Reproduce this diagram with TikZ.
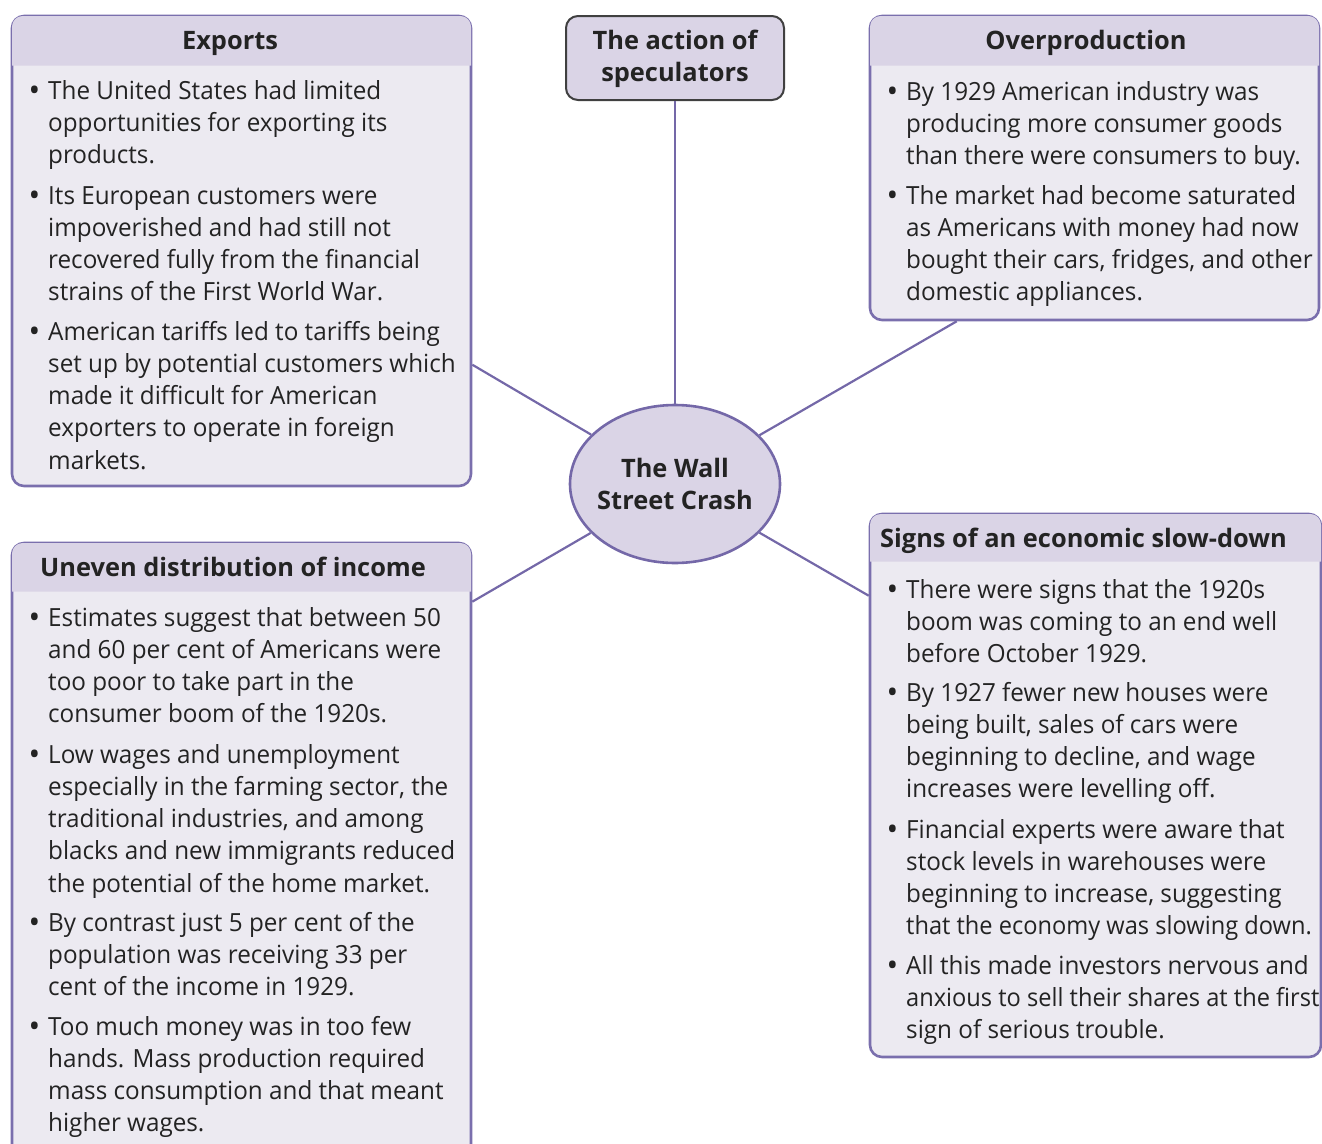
\documentclass[tikz,border=0pt]{standalone}
\usepackage{fontspec}
\setmainfont[FakeStretch=0.97]{Open Sans}
\newfontfamily\hfont[FakeStretch=1.0]{Open Sans}
\newfontfamily\narrowf[FakeStretch=0.945]{Open Sans}
\usetikzlibrary{shapes.geometric,calc}
\definecolor{hdrfill}{RGB}{218,212,230}
\definecolor{bodyfill}{RGB}{236,234,241}
\definecolor{bordc}{RGB}{122,111,173}
\definecolor{linec}{RGB}{116,104,168}
\definecolor{txtc}{RGB}{35,35,35}
\tikzset{
  box/.style={draw=bordc, line width=2.6pt, fill=bodyfill, rounded corners=12pt, inner sep=0pt},
  hdr/.style={fill=hdrfill},
  btxt/.style={anchor=base west, align=left, inner sep=0pt, text=txtc, font=\fontsize{25}{32.3}\selectfont},
  htxt/.style={anchor=base, inner sep=0pt, text=txtc, font=\hfont\fontsize{25.4}{32}\selectfont\bfseries},
  conn/.style={draw=linec, line width=2.2pt},
}
\newcommand{\bl}{\llap{\raisebox{-2.5pt}{\fontsize{32}{32}\selectfont\textbullet}\hspace{8pt}}}
\begin{document}
\begin{tikzpicture}[x=1pt,y=-1pt]
\useasboundingbox (0,0) rectangle (1322,1143);
\clip (0,0) rectangle (1322,1143);
% boxes
\node[box, minimum width=459pt, minimum height=470pt] (exports) at (241.5,251) {};
\node[box, minimum width=449pt, minimum height=304pt] (overp) at (1094.5,168) {};
\node[box, minimum width=451pt, minimum height=543pt] (signs) at (1095.5,785.5) {};
\node[box, minimum width=459pt, minimum height=617pt] (uneven) at (241.5,851.5) {};
% header bands
\fill[hdr] ($(exports.north west)+(1.3,51)$) [rounded corners=10.7pt] -- ($(exports.north west)+(1.3,1.3)$) -- ($(exports.north east)+(-1.3,1.3)$) [sharp corners] -- ($(exports.north east)+(-1.3,51)$) -- cycle;
\fill[hdr] ($(overp.north west)+(1.3,51)$) [rounded corners=10.7pt] -- ($(overp.north west)+(1.3,1.3)$) -- ($(overp.north east)+(-1.3,1.3)$) [sharp corners] -- ($(overp.north east)+(-1.3,51)$) -- cycle;
\fill[hdr] ($(signs.north west)+(1.3,49)$) [rounded corners=10.7pt] -- ($(signs.north west)+(1.3,1.3)$) -- ($(signs.north east)+(-1.3,1.3)$) [sharp corners] -- ($(signs.north east)+(-1.3,49)$) -- cycle;
\fill[hdr] ($(uneven.north west)+(1.3,50)$) [rounded corners=10.7pt] -- ($(uneven.north west)+(1.3,1.3)$) -- ($(uneven.north east)+(-1.3,1.3)$) [sharp corners] -- ($(uneven.north east)+(-1.3,50)$) -- cycle;
% speculators and centre
\node[draw=black!75, line width=2pt, fill=hdrfill, rounded corners=12pt, minimum width=218pt, minimum height=84pt, inner sep=0pt] (spec) at (675,58) {};
\node[ellipse, draw=linec, line width=2.6pt, fill=hdrfill, minimum width=210pt, minimum height=158pt, inner sep=0pt] (crash) at (675,484) {};
% connector anchors on box sides
\coordinate (expC) at ($(exports.north east)+(0,350)$);
\coordinate (ovC) at ($(overp.south west)+(88,0)$);
\coordinate (unC) at ($(uneven.north east)+(0,60)$);
\coordinate (sgC) at ($(signs.north west)+(0,83)$);
\draw[conn] (spec.south) -- (crash.north);
\draw[conn] (expC) -- (crash);
\draw[conn] (ovC) -- (crash);
\draw[conn] (unC) -- (crash);
\draw[conn] (sgC) -- (crash);
% headings
\node[htxt] (hexp) at (230,49) {Exports};
\node[htxt] (hov) at (1086,49) {Overproduction};
\node[htxt, anchor=base west] (hsg) at (880,547) {Signs of an economic slow-down};
\node[htxt, anchor=base west] (hun) at (40,576) {Uneven distribution of income};
\node[htxt, align=center] (hspec) at (675,81) {The action of\\speculators};
\node[htxt, align=center, anchor=center] (hcrash) at (675,484) {The Wall\\Street Crash};
% Exports (anchored at the baseline of the last line)
\node[btxt] (e1) at (48,163.6) {\bl The United States had limited\\opportunities for exporting its\\products.};
\node[btxt] (e2) at (48,300.9) {\bl Its European customers were\\impoverished and had still not\\recovered fully from the financial\\strains of the First World War.};
\node[btxt] (e3) at (48,469.2) {\bl American tariffs led to tariffs being\\set up by potential customers which\\made it difficult for American\\exporters to operate in foreign\\markets.};
% Overproduction
\node[btxt] (o1) at (906,164.6) {\bl By 1929 American industry was\\producing more consumer goods\\than there were consumers to buy.};
\node[btxt] (o2) at (906,300.9) {\bl The market had become saturated\\as Americans with money had now\\bought their cars, fridges, and other\\domestic appliances.};
% Uneven
\node[btxt] (u1) at (48,722.9) {\bl Estimates suggest that between 50\\and 60 per cent of Americans were\\too poor to take part in the\\consumer boom of the 1920s.};
\node[btxt] (u2) at (48,892.2) {\bl Low wages and unemployment\\especially in the farming sector, the\\traditional industries, and among\\blacks and new immigrants reduced\\the potential of the home market.};
\node[btxt] (u3) at (48,995.6) {\bl By contrast just 5 per cent of the\\population was receiving 33 per\\cent of the income in 1929.};
\node[btxt] (u4) at (48,1131.9) {\bl Too much money was in too few\\hands. Mass production required\\mass consumption and that meant\\higher wages.};
% Signs
\node[btxt] (s1) at (906,662.6) {\bl There were signs that the 1920s\\boom was coming to an end well\\before October 1929.};
\node[btxt] (s2) at (906,797.9) {\bl By 1927 fewer new houses were\\being built, sales of cars were\\beginning to decline, and wage\\increases were levelling off.};
\node[btxt] (s3) at (906,934.9) {\bl Financial experts were aware that\\stock levels in warehouses were\\beginning to increase, suggesting\\{\narrowf that the economy was slowing down.}};
\node[btxt] (s4) at (906,1038.6) {\bl All this made investors nervous and\\{\narrowf anxious to sell their shares at the first}\\sign of serious trouble.};
\end{tikzpicture}
\end{document}
